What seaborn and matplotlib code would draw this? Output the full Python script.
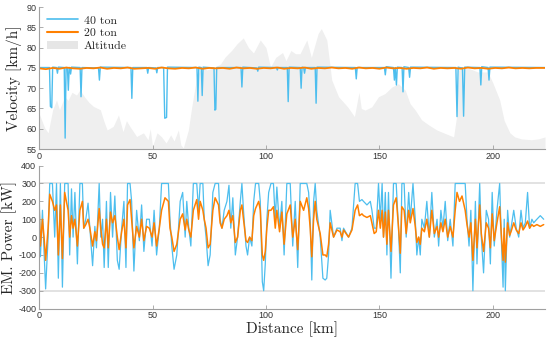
import numpy as np
import pandas as pd
import seaborn as sns
import matplotlib.pyplot as plt
from matplotlib.patches import Patch
from matplotlib.lines import Line2D

# altitude profile (km, m) - drawn as background on a hidden axis
alt_km = [0, 2.5, 4, 6, 7.7, 9, 11.3, 12.8, 14.5, 16.5, 18, 20, 22, 24, 27, 28.5, 30, 32.7, 35, 37,
          38.5, 40, 43, 46, 48, 49, 50, 52, 54, 56, 58, 59.5, 61.4, 62.5, 63.6, 65.8, 67.3, 69.5, 71.7, 74,
          77.6, 80, 82, 85, 87.3, 90, 92.3, 94.5, 97.5, 100, 102, 104.3, 107.3, 108.8, 111, 113, 115, 118, 120, 123,
          124.4, 126.8, 129, 132, 136, 139, 141, 142, 143.7, 146.6, 149.6, 152.5, 155.5, 158.4, 161.4, 163.5, 165.8, 168.6, 171.6, 175.3,
          178.3, 182.7, 184, 184.8, 189, 193.4, 197.8, 200, 203, 205, 207.5, 209.6, 212.6, 217, 220, 223]
alt_m = [88, 52, 40, 97, 121, 97, 129, 120, 140, 133, 146, 129, 115, 105, 97, 70, 47, 56, 84, 43,
         70, 56, 31, 40, 23, 50, 7, 40, 30, 15, 35, 20, 47, 10, 3, 47, 104, 178, 202, 195,
         202, 210, 227, 244, 260, 274, 250, 237, 269, 250, 202, 226, 238, 218, 243, 235, 235, 269, 226, 285,
         297, 269, 170, 129, 104, 80, 140, 100, 96, 104, 129, 137, 153, 161, 145, 112, 96, 72, 60, 47,
         40, 30, 80, 195, 200, 190, 190, 163, 121, 70, 40, 30, 25, 23, 25, 30]

# velocity, 40 ton
v40_km = [0, 4.6, 5.0, 5.6, 6.0, 7.7, 8.1, 8.5, 11.1, 11.5, 11.9, 12.5, 12.9, 13.3, 13.6, 13.9, 14.3,
          18.1, 18.5, 18.9, 26.2, 26.6, 27.0, 40.5, 40.9, 41.3, 47.5, 47.9, 48.3, 51.5, 51.9, 52.3,
          54.9, 55.4, 56.2, 56.6, 69.6, 70.0, 70.4, 71.5, 71.9, 72.3, 77.1, 77.5, 77.9, 78.3,
          89.0, 89.4, 89.8, 96.0, 96.4, 96.8, 104.6, 105.0, 105.4, 109.4, 109.8, 110.2,
          115.1, 115.5, 115.9, 116.6, 117.0, 117.4, 121.7, 122.1, 122.5, 139.4, 139.8, 140.2,
          152.2, 152.6, 153.0, 156.2, 156.6, 157.0, 157.5, 157.9, 160.0, 160.4, 160.8, 162.9, 163.3, 163.7,
          183.7, 184.2, 184.7, 185.3, 186.6, 187.1, 187.6, 194.3, 194.7, 195.1, 197.9, 198.3, 198.7, 223]
v40 = [75.1, 75.1, 65.5, 65.2, 75.2, 75.1, 73.7, 75.2, 75.1, 57.7, 75.1, 75.0, 69.5, 75.1, 75.1, 73.5, 75.2,
       75.1, 67.9, 75.1, 75.0, 72.0, 75.2, 75.1, 67.5, 75.1, 75.1, 73.7, 75.1, 75.0, 73.8, 75.1,
       75.1, 62.6, 62.8, 75.2, 75.1, 66.8, 75.2, 75.1, 68.2, 75.2, 75.0, 64.6, 64.8, 75.1,
       75.1, 70.3, 75.2, 75.0, 74.2, 75.2, 75.1, 74.5, 75.1, 75.1, 66.7, 75.2,
       75.1, 70.0, 75.2, 75.1, 73.7, 75.1, 75.1, 66.3, 75.2, 75.1, 72.3, 75.1,
       75.1, 73.3, 75.3, 75.1, 72.0, 75.1, 70.8, 75.2, 75.1, 69.1, 75.3, 75.1, 72.7, 75.2,
       75.1, 63.0, 75.2, 75.1, 75.0, 63.1, 75.2, 75.1, 70.8, 75.3, 75.1, 72.0, 75.2, 75.1]

# velocity, 20 ton
v20_km = [0, 3, 6, 9, 12, 15, 18, 21, 24, 27, 30, 33, 36, 39, 42, 45, 48, 51, 54, 57, 60, 63, 66, 69, 72, 75,
          78, 81, 84, 87, 90, 93, 96, 99, 102, 105, 108, 111, 114, 117, 120, 123, 126, 129, 132, 135, 138,
          141, 144, 147, 150, 153, 156, 159, 162, 165, 168, 171, 174, 177, 180, 183, 186, 189, 192, 195, 198,
          201, 204, 207, 210, 213, 216, 219, 223]
v20 = [74.9, 74.7, 75.0, 74.8, 75.1, 74.9, 74.8, 75.0, 74.9, 75.1, 74.8, 75.0, 74.9, 75.1, 74.8, 74.9, 75.0, 74.8, 75.1, 74.9,
       74.8, 75.0, 74.9, 75.1, 74.8, 75.0, 74.9, 75.0, 74.8, 75.1, 74.9, 75.0, 74.8, 75.0, 74.9, 75.1, 74.8, 75.0, 74.9, 75.1,
       74.8, 75.0, 74.9, 75.1, 74.9, 75.0, 74.8, 75.1, 74.9, 75.0, 74.8, 75.1, 74.9, 75.0, 74.8, 75.0, 74.9, 75.1, 74.8, 75.0,
       74.9, 75.0, 74.8, 75.1, 74.9, 75.0, 74.8, 75.0, 74.9, 75.1, 74.9, 75.0, 74.9, 75.0, 75.0]

# electric machine power (kW)
p_km = [0.0, 0.6, 1.5, 2.2, 2.9, 4.0, 4.7, 5.9, 6.9, 7.7, 8.5, 9.4, 10.3, 11.3, 12.8, 13.5, 14.3, 15.0, 15.8, 16.9,
        18.0, 19.1, 19.7, 20.6, 21.6, 22.4, 23.6, 24.6, 25.3, 26.5, 27.2, 28.0, 28.7, 29.7, 30.5, 31.5, 32.4, 33.4, 34.5, 35.3,
        36.4, 37.4, 38.3, 39.0, 40.1, 40.8, 41.8, 43.0, 44.2, 45.2, 46.2, 47.4, 48.6, 49.8, 50.7, 51.8, 53.0, 54.0, 55.5, 57.0,
        57.7, 58.5, 59.5, 60.7, 62.2, 63.3, 64.4, 65.1, 66.0, 66.9, 68.0, 69.5, 70.3, 71.0, 72.2, 72.8, 73.6, 74.5, 75.4, 76.6,
        77.6, 79.1, 79.8, 80.6, 81.6, 82.8, 83.7, 84.5, 85.4, 86.5, 87.5, 88.7, 89.4, 90.1, 91.2, 91.9, 92.8, 93.8, 94.6, 95.4,
        96.8, 97.5, 98.4, 99.0, 99.7, 100.4, 101.2, 102.2, 103.3, 104.1, 104.8, 106.0, 107.0, 108.0, 109.2, 110.7, 111.8, 112.9, 114.0, 115.1,
        116.6, 118.0, 118.8, 119.5, 120.2, 121.0, 121.7, 122.4, 123.9, 125.1, 126.1, 126.8, 127.6, 128.3, 129.8, 131.3, 132.7, 133.5, 134.2, 136.4,
        137.9, 139.3, 140.4, 141.2, 142.3, 143.0, 144.5, 146.0, 146.7, 147.7, 148.6, 149.6, 150.4, 151.2, 151.8, 152.6, 153.3, 154.0, 155.1, 156.2,
        157.4, 158.4, 159.2, 159.9, 160.9, 161.8, 162.9, 163.6, 164.8, 165.8, 166.5, 167.3, 168.0, 168.7, 169.8, 170.9, 172.0, 173.1, 174.2, 175.4,
        176.1, 177.1, 178.0, 179.0, 180.1, 181.2, 182.4, 183.4, 184.2, 185.3, 186.4, 187.8, 188.6, 189.5, 190.3, 191.2, 192.3, 193.0, 194.2, 194.9,
        195.9, 197.1, 198.1, 198.9, 199.7, 200.6, 201.8, 203.0, 203.7, 204.5, 205.0, 205.5, 206.5, 207.4, 208.0, 209.2, 210.3, 211.4, 212.4, 213.3,
        214.3, 215.3, 216.2, 217.2, 218.0, 219.4, 220.9, 222.4]
p40 = [280, -110, 150, -80, -290, 0, 300, 300, 0, 300, -230, 300, -280, 300, 300, -100, 270, 0, 250, -150,
       300, 300, 50, 100, 190, 50, -160, 60, -60, 300, 0, 100, -170, 200, -170, 250, 0, 230, -130, -180,
       50, 200, -170, 300, 300, 200, -190, 150, -20, 180, -80, 100, 100, -50, 150, -100, 50, 300, 300, 300,
       100, -50, -180, -100, 200, 250, 0, 200, 50, -50, 300, 300, 150, 300, 300, 100, 0, -160, -100, 250,
       300, 300, 100, 50, 150, 200, 290, 50, 220, -100, 0, 200, 300, 150, -50, -100, 0, -50, 200, 300,
       300, 200, -250, -300, -150, 100, 250, 300, 300, 100, 280, 50, 200, -100, 300, 300, -50, 200, -170, 300,
       300, 300, 250, 100, -240, 200, 300, 150, 0, -230, -240, -230, -100, 150, 0, 50, 50, -20, 50, 0,
       50, 300, 300, 200, 210, 200, 180, 200, 150, 50, 50, 300, 100, 300, 0, 250, -100, 250, -230, 300,
       300, 50, -200, 300, 300, 0, 250, 100, 300, 100, -100, 0, -100, 100, 50, 200, 0, 250, 0, 100,
       -50, 150, 50, 200, -20, 100, -50, 300, 300, 300, 300, 300, 100, -50, 150, -300, 200, -150, 300, 0,
       -200, 150, 100, -150, 250, -50, 150, 300, 0, -280, 100, -300, 150, 0, 50, 150, 50, 0, 150, 50,
       80, 250, 50, 100, 80, 100, 120, 100]
p20 = [180, -50, 100, 0, -130, 50, 240, 200, 150, 180, -100, 180, -120, 250, 150, 0, 120, 50, 100, -50,
       150, 200, 50, 70, 100, 50, -50, 30, -20, 160, 50, -40, -60, 100, -60, 140, 80, 120, 0, -70,
       30, 100, -60, 180, 210, 100, -60, 60, 0, 100, -20, 60, 50, 0, 80, -50, 50, 150, 220, 200,
       50, 0, -80, -40, 100, 130, 40, 100, 40, 0, 150, 210, 100, 200, 150, 100, 50, -60, -40, 150,
       220, 180, 80, 50, 100, 120, 150, 80, 120, -30, 0, 150, 180, 100, -20, -30, 0, -20, 120, 160,
       200, 150, -100, -130, -80, 50, 150, 150, 170, 50, 150, 30, 140, -40, 130, 180, 0, 100, -70, 200,
       150, 220, 160, 50, -110, 100, 200, 100, 20, -100, -100, -110, -40, 80, 0, 40, 30, 0, 40, 0,
       40, 150, 180, 120, 130, 120, 110, 120, 80, 20, 30, 150, 50, 150, 0, 140, -40, 150, -80, 180,
       220, 60, -90, 170, 150, 20, 150, 80, 160, 60, -30, 0, -40, 50, 30, 100, 0, 150, 20, 60,
       0, 80, 30, 100, 0, 60, 0, 150, 250, 200, 230, 150, 70, 0, 80, -130, 100, -60, 180, 20,
       -80, 80, 50, -60, 130, -20, 80, 170, 20, -130, 50, -140, 80, 10, 30, 80, 40, 20, 80, 40,
       60, 90, 50, 70, 60, 70, 60, 70]

blue = "#4DBEEE"
orange = "#FF8000"
serif = "cmr10"

sns.set_theme(style="white")
plt.rcParams["font.family"] = ["Liberation Sans", "DejaVu Sans"]
plt.rcParams["axes.unicode_minus"] = False

fig = plt.figure(figsize=(5.5, 3.38), dpi=100)
ax1 = fig.add_axes([0.071, 0.559, 0.920, 0.420])
ax3 = fig.add_axes([0.071, 0.087, 0.920, 0.423])

# top: altitude background + velocity
ax2 = ax1.twinx()
ax2.fill_between(alt_km, alt_m, 0, color="#efefef", lw=0)
ax2.set_ylim(0, 350)
ax2.set_yticks([])
for s in ax2.spines.values():
    s.set_visible(False)
ax1.set_zorder(ax2.get_zorder() + 1)
ax1.patch.set_visible(False)

sns.lineplot(x=v40_km, y=v40, ax=ax1, color=blue, lw=1.0, estimator=None)
sns.lineplot(x=v20_km, y=v20, ax=ax1, color=orange, lw=1.3, estimator=None)
ax1.set_ylim(55, 90)
ax1.set_yticks(range(55, 91, 5))
ax1.set_ylabel("Velocity [km/h]", family=serif, fontsize=11, labelpad=3)

handles = [Line2D([], [], color=blue, lw=1.2), Line2D([], [], color=orange, lw=1.5),
           Patch(facecolor="#e6e6e6", edgecolor="none")]
ax1.legend(handles, ["40 ton", "20 ton", "Altitude"], loc="upper left", frameon=False,
           prop={"family": serif, "size": 8.5}, handlelength=2.6, handletextpad=0.5,
           labelspacing=0.2, borderaxespad=0.3, bbox_to_anchor=(0.0, 1.0))

# bottom: power
ax3.axhline(300, color="#dddddd", lw=1.2, zorder=0)
ax3.axhline(-300, color="#dddddd", lw=1.2, zorder=0)
sns.lineplot(x=p_km, y=p40, ax=ax3, color=blue, lw=0.9, estimator=None)
sns.lineplot(x=p_km, y=p20, ax=ax3, color=orange, lw=1.1, estimator=None)
ax3.set_ylim(-400, 400)
ax3.set_yticks(range(-400, 401, 100))
ax3.set_ylabel("EM. Power [kW]", family=serif, fontsize=11, labelpad=1)
ax3.set_xlabel("Distance [km]", family=serif, fontsize=11, labelpad=1)

for ax in (ax1, ax3):
    ax.set_xlim(0, 223)
    ax.set_xticks([0, 50, 100, 150, 200])
    ax.spines["top"].set_visible(False)
    ax.spines["right"].set_visible(False)
    for s in ("left", "bottom"):
        ax.spines[s].set_color("#a0a0a0")
        ax.spines[s].set_linewidth(0.8)
    ax.tick_params(direction="in", length=3, width=0.6, colors="#a0a0a0",
                   labelcolor="#333333", labelsize=6.5, pad=2,
                   left=True, bottom=True)

fig.savefig("out.png", dpi=100)
